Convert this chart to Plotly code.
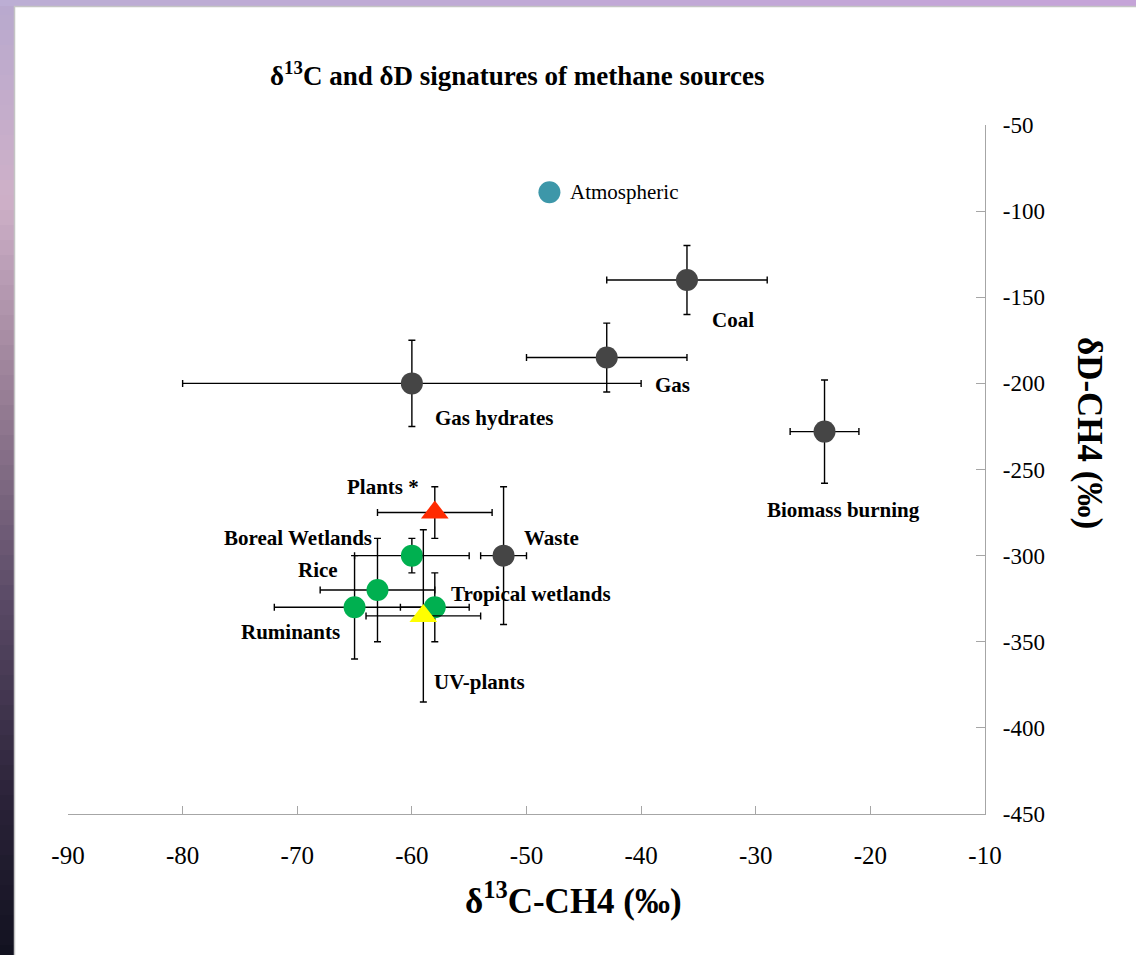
import plotly.graph_objects as go

# ---------------- data ----------------
fossil_names = ["Coal", "Gas", "Gas hydrates", "Biomass burning", "Waste"]
fossil_d13c = [-36, -43, -60, -24, -52]
fossil_dD = [-140, -185, -200, -228, -300]
fossil_d13c_err = [7, 7, 20, 3, 2]
fossil_dD_err = [20, 20, 25, 30, 40]

wet_names = ["Boreal Wetlands", "Rice", "Tropical wetlands", "Ruminants"]
wet_d13c = [-60, -63, -58, -65]
wet_dD = [-300, -320, -330, -330]
wet_d13c_err = [5, 5, 3, 7]
wet_dD_err = [10, 30, 20, 30]

plants_names = ["Plants *"]
plants_d13c = [-58]
plants_dD = [-275]
plants_d13c_err = [5]
plants_dD_err = [15]

uv_names = ["UV-plants"]
uv_d13c = [-59]
uv_dD = [-335]
uv_d13c_err = [5]
uv_dD_err = [50]

atm_names = ["Atmospheric"]
atm_d13c = [-48]
atm_dD = [-89]

x_ticks = [-90, -80, -70, -60, -50, -40, -30, -20, -10]
y_ticks = [-450, -400, -350, -300, -250, -200, -150, -100, -50]

# label offsets in pixels (style)
label_offsets = {
    "Coal": (46, -40), "Gas": (66, -27), "Gas hydrates": (82, -35),
    "Biomass burning": (19, -78), "Waste": (48, 18),
    "Boreal Wetlands": (-114, 18), "Rice": (-59, 20),
    "Tropical wetlands": (96, 13), "Ruminants": (-64, -25),
    "Plants *": (-52, 26), "UV-plants": (56, -66),
}

# ---------------- layout geometry ----------------
W, H = 1136, 955
ML, MR, MT, MB = 68, 151, 125, 141
PW, PH = W - ML - MR, H - MT - MB


def px2x(px):
    return (px - ML) / PW


def py2y(py):
    return (H - MB - py) / PH


SERIF = "Liberation Serif"
ERR = dict(color="#000000", thickness=1.4, width=3.5)

fig = go.Figure()


def add_series(xs, ys, xe, ye, color, symbol, size):
    fig.add_trace(go.Scatter(
        x=xs, y=ys, mode="markers",
        marker=dict(color=color, symbol=symbol, size=size, line=dict(width=0)),
        error_x=dict(type="data", array=xe, visible=True, **ERR),
        error_y=dict(type="data", array=ye, visible=True, **ERR),
        showlegend=False, hoverinfo="skip",
    ))


add_series(fossil_d13c, fossil_dD, fossil_d13c_err, fossil_dD_err, "#454545", "circle", 22)
add_series(wet_d13c, wet_dD, wet_d13c_err, wet_dD_err, "#00b050", "circle", 22)
add_series(plants_d13c, plants_dD, plants_d13c_err, plants_dD_err, "#ff2a00", "triangle-up", 24)
add_series(uv_d13c, uv_dD, uv_d13c_err, uv_dD_err, "#ffff00", "triangle-up", 24)
fig.add_trace(go.Scatter(
    x=atm_d13c, y=atm_dD, mode="markers",
    marker=dict(color="#3d97a9", size=22, line=dict(width=0)),
    showlegend=False, hoverinfo="skip",
))

annotations = []
for names, xs, ys in [(fossil_names, fossil_d13c, fossil_dD),
                      (wet_names, wet_d13c, wet_dD),
                      (plants_names, plants_d13c, plants_dD),
                      (uv_names, uv_d13c, uv_dD)]:
    for n, xv, yv in zip(names, xs, ys):
        dx, dy = label_offsets[n]
        annotations.append(dict(
            x=xv, y=yv, xref="x", yref="y", text="<b>%s</b>" % n,
            showarrow=False, xshift=dx, yshift=dy,
            xanchor="center", yanchor="middle",
            font=dict(family=SERIF, size=21, color="#000000"),
        ))
annotations.append(dict(
    x=atm_d13c[0], y=atm_dD[0], xref="x", yref="y", text=atm_names[0],
    showarrow=False, xanchor="left", yanchor="middle", xshift=19, yshift=0,
    font=dict(family=SERIF, size=21, color="#000000"),
))
# title
annotations.append(dict(
    x=px2x(517), y=py2y(74), xref="paper", yref="paper",
    xanchor="center", yanchor="middle",
    text="<b>δ<sup>13</sup>C and δD signatures of methane sources</b>",
    showarrow=False, font=dict(family=SERIF, size=27, color="#000000"),
))
# axis titles
annotations.append(dict(
    x=px2x(573), y=py2y(898), xref="paper", yref="paper",
    xanchor="center", yanchor="middle",
    text="<b>δ<sup>13</sup>C-CH4 (‰)</b>",
    showarrow=False, font=dict(family=SERIF, size=35, color="#000000"),
))
annotations.append(dict(
    x=px2x(1090), y=py2y(433), xref="paper", yref="paper",
    xanchor="center", yanchor="middle",
    text="<b>δD-CH4 (‰)</b>", textangle=90,
    showarrow=False, font=dict(family=SERIF, size=35, color="#000000"),
))

# slide background strips (decoration)
shapes = []
left_stops = [(0, (184, 169, 206)), (200, (206, 176, 200)), (400, (150, 125, 148)),
              (600, (90, 74, 102)), (800, (42, 34, 56)), (955, (18, 18, 32))]


def lerp_col(py):
    for (a, ca), (b, cb) in zip(left_stops[:-1], left_stops[1:]):
        if a <= py <= b:
            t = (py - a) / (b - a)
            return tuple(int(round(ca[i] + t * (cb[i] - ca[i]))) for i in range(3))
    return left_stops[-1][1]


step = 15
for y0 in range(0, H, step):
    c = lerp_col(y0 + step / 2)
    shapes.append(dict(type="rect", xref="paper", yref="paper",
                       x0=px2x(0), x1=px2x(14), y0=py2y(y0 + step + 1), y1=py2y(y0),
                       fillcolor="rgb(%d,%d,%d)" % c, line=dict(width=0), layer="below"))
for x0 in range(0, W, 40):
    t = x0 / W
    c = (int(188 + t * 10), int(174 - t * 10), int(212 + t * 5))
    shapes.append(dict(type="rect", xref="paper", yref="paper",
                       x0=px2x(x0), x1=px2x(x0 + 41), y0=py2y(6), y1=py2y(0),
                       fillcolor="rgb(%d,%d,%d)" % c, line=dict(width=0), layer="below"))
shapes.append(dict(type="line", xref="paper", yref="paper",
                   x0=px2x(14.5), x1=px2x(14.5), y0=py2y(H), y1=py2y(6),
                   line=dict(color="#c4c4c4", width=1.5), layer="below"))
shapes.append(dict(type="line", xref="paper", yref="paper",
                   x0=px2x(14), x1=px2x(W), y0=py2y(6.5), y1=py2y(6.5),
                   line=dict(color="#c4c4c4", width=1.5), layer="below"))

AXC = "#a6a6a6"
fig.update_layout(
    width=W, height=H,
    margin=dict(l=ML, r=MR, t=MT, b=MB, pad=0),
    paper_bgcolor="#ffffff", plot_bgcolor="rgba(0,0,0,0)",
    showlegend=False,
    annotations=annotations, shapes=shapes,
    xaxis=dict(range=[-90, -10], tickmode="array", tickvals=x_ticks,
               ticktext=[str(v) for v in x_ticks],
               showline=True, linecolor=AXC, linewidth=1.3,
               ticks="inside", ticklen=8, tickcolor=AXC, tickwidth=1.3,
               showgrid=False, zeroline=False, ticklabelstandoff=19,
               tickfont=dict(family=SERIF, size=25, color="#000000")),
    yaxis=dict(range=[-450, -50], side="right", tickmode="array", tickvals=y_ticks,
               ticktext=[str(v) for v in y_ticks],
               showline=True, linecolor=AXC, linewidth=1.3,
               ticks="inside", ticklen=9, tickcolor=AXC, tickwidth=1.3,
               showgrid=False, zeroline=False, ticklabelstandoff=12,
               tickfont=dict(family=SERIF, size=23, color="#000000")),
)

fig.write_html("out.html", config={"displayModeBar": False},
               post_script="document.body.style.margin='0';document.body.style.overflow='hidden';")
